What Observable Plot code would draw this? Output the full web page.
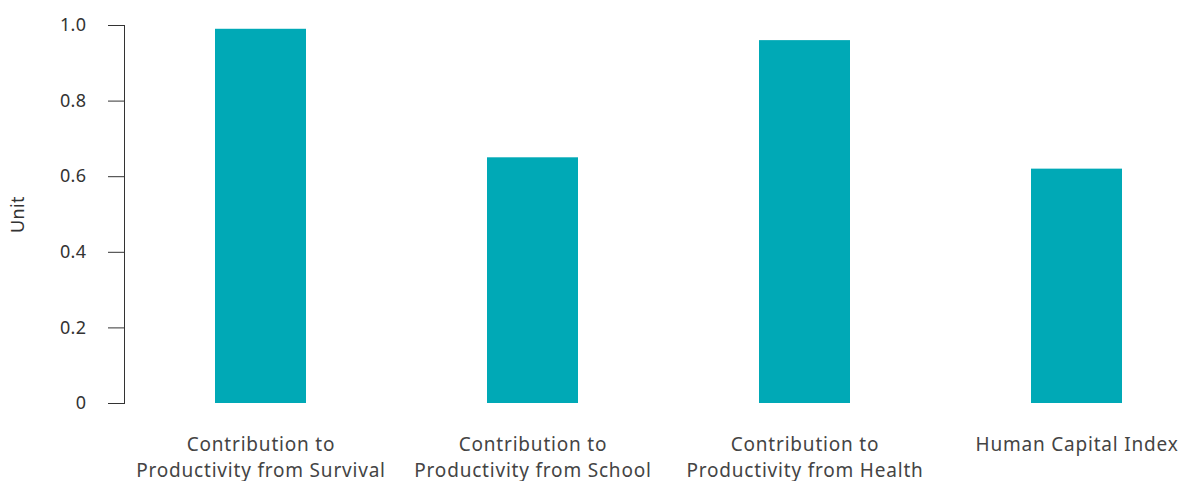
<!DOCTYPE html>
<html>
<head>
<meta charset="utf-8">
<script src="https://cdn.jsdelivr.net/npm/d3@7"></script>
<script src="https://cdn.jsdelivr.net/npm/@observablehq/plot@0.6"></script>
<style>
  html, body { margin: 0; padding: 0; background: #fff; }
  #chart svg { display: block; }
</style>
</head>
<body>
<div id="chart"></div>
<script>
const categories = [
  "Contribution to\nProductivity from Survival",
  "Contribution to\nProductivity from School",
  "Contribution to\nProductivity from Health",
  "Human Capital Index"
];
const values = [0.99, 0.65, 0.96, 0.62];
const yTicks = [0, 0.2, 0.4, 0.6, 0.8, 1.0];
const yLabel = "Unit";

const data = categories.map((c, i) => ({category: c, value: values[i]}));

const chart = Plot.plot({
  width: 1179,
  height: 481,
  marginLeft: 124,
  marginRight: 0,
  marginTop: 25,
  marginBottom: 78,
  style: {fontFamily: "'Noto Sans', sans-serif", fontSize: "18px", color: "#333", background: "#fff", letterSpacing: "0.4px"},
  x: {domain: categories, range: [124, 1212], paddingInner: 2/3, paddingOuter: 1/3, axis: null},
  y: {
    domain: [0, 1],
    ticks: yTicks,
    line: true,
    tickSize: 16,
    tickPadding: 22,
    tickFormat: d => d === 0 ? "0" : d.toFixed(1),
    label: yLabel,
    labelAnchor: "center",
    labelArrow: "none",
    labelOffset: 113
  },
  marks: [
    Plot.barY(data, {x: "category", y: "value", fill: "#00a9b6"}),
    Plot.axisX({
      tickSize: 0,
      tickPadding: 30,
      lineHeight: 1.33,
      fontSize: 19,
      fill: "#444",
      label: null
    })
  ]
});
chart.querySelectorAll("[aria-label='x-axis tick label'] text").forEach(t => t.style.letterSpacing = "0.8px");
document.getElementById("chart").appendChild(chart);
</script>
</body>
</html>
